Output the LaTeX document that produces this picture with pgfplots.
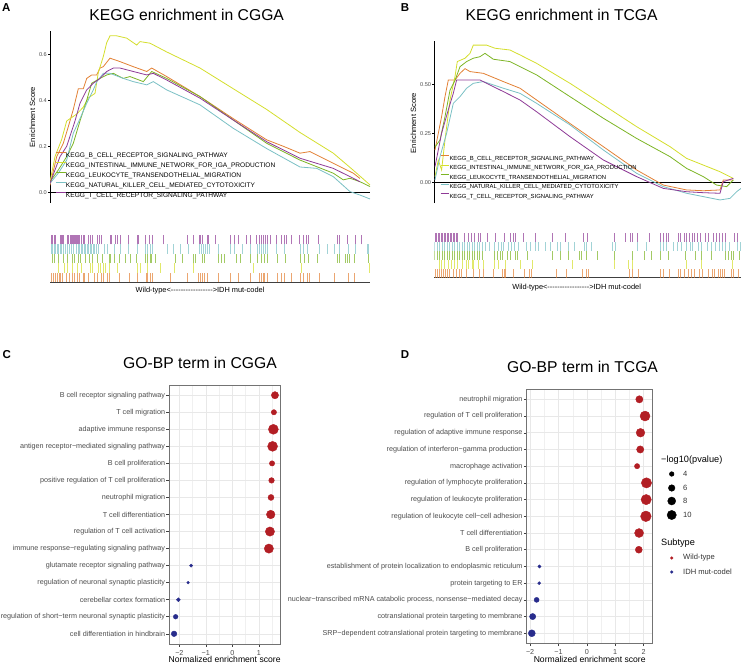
\documentclass[border=0pt]{standalone}
\usepackage{fontspec}
\setmainfont{Liberation Sans}[Ligatures=TeXOff]
\usepackage{pgfplots}
\pgfplotsset{compat=1.18}
\definecolor{cOr}{RGB}{226,128,52}
\definecolor{cYe}{RGB}{212,222,44}
\definecolor{cGr}{RGB}{124,180,36}
\definecolor{cCy}{RGB}{122,192,196}
\definecolor{cPu}{RGB}{142,58,150}
\definecolor{wtred}{RGB}{178,30,36}
\definecolor{idhblue}{RGB}{40,44,140}
\newcommand{\fs}[1]{\fontsize{#1bp}{#1bp}\selectfont}
\pgfplotsset{
 esaxis/.style={scale only axis, axis x line=none, axis y line*=left,
   axis line style={-,black,line width=0.6bp}, tick align=outside, major tick length=2bp,
   tick style={black,line width=0.5bp},
   yticklabel style={font=\fs{5.6}, text=black!70, inner sep=1bp},
   ylabel style={font=\fs{7.6}, anchor=center},
   legend cell align=left},
 rugaxis/.style={scale only axis, xmin=0, ymin=0, ymax=5, axis y line=none, axis x line*=bottom,
   axis line style={-, black!75, line width=0.9bp}, xtick=\empty,
   xlabel style={font=\fs{7.4}, anchor=center}},
 goaxis/.style={scale only axis, ymin=0.4, ymax=15.6, ytick={1,...,15}, tick pos=left,
   tick align=outside, major tick length=2.8bp, minor tick length=0pt,
   tick style={black!75, line width=0.5bp}, grid=both,
   major grid style={black!9, line width=0.55bp}, minor grid style={black!6, line width=0.35bp},
   axis line style={black!55, line width=0.6bp},
   ticklabel style={text=black!70, font=\fs{7.2}}, yticklabel style={inner sep=1.2bp},
   xlabel={Normalized enrichment score},
   xlabel style={font=\fs{8.6}, at={(axis description cs:0.5,0)}, anchor=center, yshift=-15.8bp}},
 gopts/.style={scatter, only marks, mark=*, scatter/use mapped color={draw=#1, fill=#1},
   visualization depends on={sqrt(10.7*\thisrow{p}-20.7)/2 \as \msz},
   scatter/@pre marker code/.append style={/tikz/mark size=\msz}},
}
\newcommand\rug[3]{\addplot[#1, line width=1bp, opacity=0.7, quiver={u=0,v=1}] table[row sep=\\, header=false, x index=0, y expr=#2] {#3};}
\begin{document}
\begin{tikzpicture}
\path[use as bounding box] (0,0) rectangle (741bp,-664bp);

% ---------- Panel A running score ----------
\begin{axis}[esaxis, at={(50bp,-31bp)}, anchor=north west, width=320bp, height=172bp,
  xmin=0, xmax=320, ymin=-0.0465, ymax=0.701,
  ytick={0,0.2,0.4,0.6}, yticklabels={0.0,0.2,0.4,0.6},
  ylabel={Enrichment Score}, ylabel style={at={(axis description cs:-0.055,0.5)}},
  legend style={at={(axis description cs:0.0156,0.308)}, anchor=north west, draw=none, fill=none,
    inner sep=0pt, font=\fs{6.6}, row sep=0bp, nodes={inner sep=0pt, text height=7.4bp, text depth=2.6bp}},
  legend image code/.code={\draw[#1, line width=0.8bp] (0bp,2.4bp) -- (10bp,2.4bp);}]
\addplot[black, line width=0.7bp, forget plot] coordinates {(0,0) (320,0)};
\addplot[cOr, line width=0.8bp] coordinates {(0,0.03) (6.7,0.155) (13.3,0.213) (18.3,0.285) (23.3,0.36) (28.3,0.45) (33.3,0.45) (36.7,0.495) (41.7,0.51) (46.7,0.51) (50,0.54) (53.3,0.546) (60,0.583) (70,0.568) (83.3,0.546) (96.7,0.525) (101.7,0.54) (116.7,0.503) (150,0.416) (183.3,0.32) (216.7,0.228) (233.3,0.2) (250,0.17) (260,0.177) (283.3,0.126) (303.3,0.083) (310,0.06)};
\addplot[cYe, line width=0.8bp] coordinates {(0,0.046) (5,0.155) (11.7,0.23) (16.7,0.31) (26.7,0.34) (33.3,0.37) (38.3,0.41) (45,0.43) (48.3,0.52) (53.3,0.59) (56.7,0.65) (60,0.68) (66.7,0.68) (76.7,0.67) (86.7,0.64) (90,0.655) (100,0.648) (116.7,0.61) (150,0.54) (183.3,0.45) (216.7,0.36) (250,0.26) (283.3,0.17) (303,0.097) (320,0.032)};
\addplot[cGr, line width=0.8bp] coordinates {(0,0.046) (8.3,0.097) (16.7,0.155) (23.3,0.213) (30,0.31) (36.7,0.4) (41.7,0.474) (50,0.495) (56.7,0.51) (63.3,0.517) (73.3,0.495) (80,0.503) (93.3,0.481) (101.7,0.525) (116.7,0.495) (150,0.416) (183.3,0.314) (216.7,0.213) (250,0.14) (283.3,0.083) (293.3,0.054) (300,0.061) (310,0.046) (320,0.025)};
\addplot[cCy, line width=0.8bp] coordinates {(0,0.039) (8.3,0.083) (16.7,0.14) (23.3,0.257) (30,0.32) (36.7,0.387) (43.3,0.445) (46.7,0.48) (53.3,0.517) (60,0.517) (73.3,0.495) (83.3,0.481) (96.7,0.467) (103.3,0.481) (116.7,0.445) (150,0.38) (183.3,0.278) (216.7,0.19) (250,0.11) (266.7,0.104) (283.3,0.068) (300,0.003) (310,-0.012) (320,-0.029)};
\addplot[cPu, line width=0.8bp] coordinates {(0,0.039) (10,0.155) (16.7,0.2) (25,0.31) (30,0.387) (36.7,0.445) (43.3,0.474) (50,0.495) (56.7,0.525) (63.3,0.54) (70,0.54) (83.3,0.525) (96.7,0.51) (103.3,0.517) (116.7,0.488) (150,0.409) (183.3,0.314) (216.7,0.22) (250,0.148) (283.3,0.104) (300,0.068) (310,0.046)};
\legend{KEGG\_B\_CELL\_RECEPTOR\_SIGNALING\_PATHWAY, KEGG\_INTESTINAL\_IMMUNE\_NETWORK\_FOR\_IGA\_PRODUCTION, KEGG\_LEUKOCYTE\_TRANSENDOTHELIAL\_MIGRATION, KEGG\_NATURAL\_KILLER\_CELL\_MEDIATED\_CYTOTOXICITY, KEGG\_T\_CELL\_RECEPTOR\_SIGNALING\_PATHWAY}
\end{axis}

% ---------- Panel B running score ----------
\begin{axis}[esaxis, at={(434.3bp,-41bp)}, anchor=north west, width=306.7bp, height=162bp,
  xmin=0, xmax=306.7, ymin=-0.1056, ymax=0.721,
  ytick={0,0.25,0.5}, yticklabels={0.00,0.25,0.50},
  ylabel={Enrichment Score}, ylabel style={at={(axis description cs:-0.0685,0.494)}},
  legend style={at={(axis description cs:0.0186,0.309)}, anchor=north west, draw=none, fill=none,
    inner sep=0pt, font=\fs{5.9}, row sep=0bp, nodes={inner sep=0pt, text height=7.0bp, text depth=2.5bp}},
  legend image code/.code={\draw[#1, line width=0.8bp] (0bp,2.2bp) -- (8.5bp,2.2bp);}]
\addplot[black, line width=0.7bp, forget plot] coordinates {(0,0) (306.7,0)};
\addplot[cOr, line width=0.8bp] coordinates {(0.7,0.165) (7.3,0.335) (10.7,0.437) (14,0.522) (20.7,0.522) (25.7,0.556) (30.7,0.58) (35.7,0.565) (49,0.556) (69,0.514) (85.7,0.48) (102.3,0.42) (135.7,0.30) (169,0.182) (202.3,0.063) (229,-0.014) (252.3,-0.039) (269,-0.043) (285.7,-0.039) (289,0.012) (299,0.012)};
\addplot[cYe, line width=0.8bp] coordinates {(0.7,0.029) (4,0.114) (7.3,0.063) (10.7,0.216) (15.7,0.42) (20.7,0.54) (23,0.616) (30.7,0.633) (35.7,0.658) (39,0.70) (52.3,0.70) (60.7,0.684) (75.7,0.675) (85.7,0.65) (102.3,0.607) (135.7,0.505) (169,0.395) (202.3,0.284) (235.7,0.182) (252.3,0.122) (269,0.088) (285.7,0.054) (299,0.02)};
\addplot[cGr, line width=0.8bp] coordinates {(0.7,0.18) (5.7,0.216) (10.7,0.335) (15.7,0.47) (20.7,0.52) (25.7,0.59) (32.3,0.616) (39,0.633) (45.7,0.641) (50.7,0.658) (59,0.628) (75.7,0.616) (85.7,0.59) (102.3,0.548) (135.7,0.437) (169,0.327) (202.3,0.224) (235.7,0.131) (252.3,0.071) (269,0.029) (282.3,-0.014) (292.3,-0.022) (299,0.012)};
\addplot[cCy, line width=0.8bp] coordinates {(0.7,0.012) (5.7,0.131) (12.3,0.25) (19,0.403) (25.7,0.437) (32.3,0.48) (39,0.505) (49,0.514) (69,0.48) (85.7,0.454) (102.3,0.403) (135.7,0.293) (169,0.165) (202.3,0.046) (229,-0.022) (252.3,-0.056) (285.7,-0.09) (295.7,-0.082) (302.3,-0.048) (306.7,-0.031)};
\addplot[cPu, line width=0.8bp] coordinates {(0.7,0.08) (7.3,0.25) (14,0.37) (19,0.454) (22.3,0.522) (32.3,0.522) (45.7,0.522) (52.3,0.505) (69,0.463) (85.7,0.42) (102.3,0.36) (135.7,0.233) (169,0.114) (202.3,0.029) (229,-0.031) (252.3,-0.048) (269,-0.053) (285.7,-0.056) (289,0.003) (299,0.02)};
\legend{KEGG\_B\_CELL\_RECEPTOR\_SIGNALING\_PATHWAY, KEGG\_INTESTINAL\_IMMUNE\_NETWORK\_FOR\_IGA\_PRODUCTION, KEGG\_LEUKOCYTE\_TRANSENDOTHELIAL\_MIGRATION, KEGG\_NATURAL\_KILLER\_CELL\_MEDIATED\_CYTOTOXICITY, KEGG\_T\_CELL\_RECEPTOR\_SIGNALING\_PATHWAY}
\end{axis}

% ---------- Rug A ----------
\begin{axis}[rugaxis, at={(50bp,-235bp)}, anchor=north west, width=320bp, height=47bp, xmax=320,
  xlabel={Wild-type<----------------->IDH mut-codel},
  xlabel style={at={(axis description cs:0.469,0)}, yshift=-8.7bp}]
\rug{cPu}{4}{1\\2.5\\4\\5.5\\10\\11\\12\\13\\17\\18.5\\20\\21\\22\\23\\24\\25\\26\\27\\28\\29\\31.5\\33\\34.5\\38\\40.5\\42\\47.5\\49.5\\51.5\\60\\61\\65\\67\\70.5\\78\\87\\88.5\\95.5\\99.5\\102\\113.3\\137.5\\143.3\\149\\150.5\\152.5\\157\\158.5\\165.5\\180\\184.5\\188\\196\\200\\206\\209\\211\\213\\215\\217.3\\220.7\\226.7\\231.3\\234\\236\\241.7\\249\\253\\256\\258\\268.7\\287\\289\\297.3\\305\\311\\}
\rug{cCy}{3}{1\\2.5\\4\\5.5\\7\\8.5\\10\\11.5\\13\\15\\17\\19\\21\\23\\26.5\\28\\29.5\\31\\32.5\\34\\35.5\\37\\38.5\\40\\41.5\\43\\44.5\\46\\48.5\\54\\57.5\\64.7\\70.7\\78\\87.5\\95\\97\\100.5\\102\\117.3\\123\\130\\138\\149\\151\\153\\155\\157.5\\159\\168\\180\\184.5\\192\\200\\207\\209\\211\\213\\215\\217\\226.7\\234\\250\\253\\257\\269\\277.5\\284.7\\289.5\\298\\305\\317\\318\\}
\rug{cGr}{2}{2\\4.7\\8.7\\13\\17.5\\22.7\\24\\28\\30.5\\35.5\\39\\42\\47\\52\\59\\60.5\\64.7\\69.7\\75.5\\80\\86.7\\95\\97.5\\100\\101.7\\105.5\\125.5\\132\\143.5\\145\\152\\154.5\\168\\171\\174.7\\186\\190\\200\\207\\211\\214\\217.3\\227\\235\\250\\254\\258.3\\267\\287\\289.5\\295\\297\\299\\304\\318\\}
\rug{cYe}{1}{8.3\\14.7\\17\\22.7\\27.7\\31.3\\40.3\\42.7\\48\\50.5\\53\\55\\59\\67\\87\\90.5\\97.5\\110.5\\124.7\\143.3\\203\\251.3\\319\\}
\rug{cOr}{0}{1\\3\\5\\7\\9\\10.5\\12.5\\16.5\\19\\22.7\\24.5\\27\\29.5\\33.7\\34.7\\38\\44\\47\\51\\53\\57.5\\59.7\\69\\79\\87.5\\96\\97.5\\100.5\\102.5\\120\\137.5\\148\\150\\152\\154\\157.5\\168\\180\\188.5\\200\\209\\211\\213\\214.7\\217.5\\227\\231\\234\\241.7\\250\\253\\257\\259\\269.7\\284.7\\298\\304.7\\}
\end{axis}

% ---------- Rug B ----------
\begin{axis}[rugaxis, at={(434.3bp,-233bp)}, anchor=north west, width=306.7bp, height=44.7bp, xmax=306.7,
  xlabel={Wild-type<----------------->IDH mut-codel},
  xlabel style={at={(axis description cs:0.464,0)}, yshift=-10.3bp}]
\rug{cPu}{4}{1\\2.5\\4\\5.5\\7\\8.5\\10\\11.5\\13\\14.5\\16\\17.5\\19\\20.5\\22\\23.5\\30\\34\\37\\40\\44\\46.5\\52.7\\61\\69.7\\76\\79\\81\\89.3\\100.7\\117.7\\131.5\\149\\153\\180\\191\\196\\198\\203.4\\215\\226\\229\\232\\234\\243.7\\246\\250\\252.5\\255\\258\\260\\263\\266\\271\\274\\279\\282\\285\\288\\291\\300\\303\\}
\rug{cCy}{3}{0.5\\3\\5.5\\8\\10.5\\13\\15.5\\18\\20.5\\23\\25.5\\28\\30.5\\33\\35.5\\38\\40.5\\43\\45.5\\48\\51\\55\\60\\64\\66.7\\69\\74\\77\\80\\84\\92\\96\\101\\104\\111\\116.5\\122.7\\126.5\\134.5\\140.5\\150\\152\\157\\178\\181\\203\\212\\226\\229\\232\\239\\243\\247\\252\\256\\258\\264\\267\\273\\277\\281\\285\\288\\291\\295\\303\\306\\}
\rug{cGr}{2}{0.5\\3\\5.5\\8\\10.5\\13\\15.5\\18\\20.5\\23\\25.5\\28\\30.5\\33\\35.5\\38\\40.5\\43\\45.5\\48\\60\\63\\66.3\\68\\73\\76\\81\\83\\93.5\\117.7\\126.5\\134.3\\145\\147\\151.7\\163\\180\\198\\210\\217\\226\\234\\250.7\\261\\267\\277\\291\\294\\297\\299\\305\\}
\rug{cYe}{1}{5\\7.5\\10\\13.7\\17\\20\\22.7\\28\\32\\34\\37.7\\39\\44.4\\49.4\\60.5\\64.4\\71\\86\\97.7\\137.7\\180\\194\\198\\252\\266.7\\298\\}
\rug{cOr}{0}{1\\3\\5\\7\\9\\11\\13\\15\\19.5\\22\\25\\27.5\\32\\39.4\\45\\49.4\\59\\67.7\\70.5\\71.5\\79.4\\90\\95\\97\\121.7\\132\\148\\152\\154\\195\\198.5\\204\\226\\229\\235.5\\244\\246\\250\\254\\257\\259.7\\265\\268\\274\\278\\280\\284\\286\\288\\290\\297\\299\\304\\}
\end{axis}

% ---------- Panel C ----------
\begin{axis}[goaxis, at={(169.3bp,-385bp)}, anchor=north west, width=110.7bp, height=259bp,
  xmin=-2.38, xmax=1.80, xtick={-2,-1,0,1}, xticklabels={−2,−1,0,1}, minor xtick={-1.5,-0.5,0.5,1.5},
  yticklabels={cell differentiation in hindbrain, regulation of short−term neuronal synaptic plasticity, cerebellar cortex formation, regulation of neuronal synaptic plasticity, glutamate receptor signaling pathway, immune response−regulating signaling pathway, regulation of T cell activation, T cell differentiation, neutrophil migration, positive regulation of T cell proliferation, B cell proliferation, antigen receptor−mediated signaling pathway, adaptive immune response, T cell migration, B cell receptor signaling pathway}]
\addplot[gopts=wtred] table {
x y p
1.61 15 6.9
1.57 14 4.6
1.55 13 11.3
1.52 12 11.3
1.50 11 4.6
1.48 10 4.9
1.46 9 5.3
1.45 8 8.9
1.42 7 10
1.38 6 10
};
\addplot[gopts=idhblue] table {
x y p
-1.56 5 2.9
-1.67 4 2.6
-2.04 3 3.4
-2.14 2 4.0
-2.20 1 4.9
};
\end{axis}

% ---------- Panel D ----------
\begin{axis}[goaxis, at={(526.7bp,-389.3bp)}, anchor=north west, width=126bp, height=254bp,
  xmin=-2.12, xmax=2.32, xtick={-2,-1,0,1,2}, xticklabels={−2,−1,0,1,2}, minor xtick={-1.5,-0.5,0.5,1.5},
  yticklabels={SRP−dependent cotranslational protein targeting to membrane, cotranslational protein targeting to membrane, {nuclear−transcribed mRNA catabolic process, nonsense−mediated decay}, protein targeting to ER, establishment of protein localization to endoplasmic reticulum, B cell proliferation, T cell differentiation, regulation of leukocyte cell−cell adhesion, regulation of leukocyte proliferation, regulation of lymphocyte proliferation, macrophage activation, regulation of interferon−gamma production, regulation of adaptive immune response, regulation of T cell proliferation, neutrophil migration}]
\addplot[gopts=wtred] table {
x y p
1.85 15 6.9
2.05 14 11.3
1.89 13 9.0
1.88 12 6.9
1.77 11 4.6
2.10 10 11.9
2.09 9 11.9
2.08 8 12.6
1.84 7 9.5
1.83 6 6.5
};
\addplot[gopts=idhblue] table {
x y p
-1.67 5 2.95
-1.68 4 2.8
-1.77 3 4.3
-1.91 2 5.6
-1.94 1 6.5
};
\end{axis}

% ---------- legend (size / subtype) ----------
\begin{axis}[at={(0bp,-664bp)}, anchor=south west, scale only axis, width=741bp, height=664bp,
  xmin=0, xmax=741, ymin=-664, ymax=0, hide axis, clip=false]
\addplot[gopts=black] table {
x y p
671.7 -474 4
671.7 -488 6
671.7 -501 8
671.7 -515 10
};
\addplot[only marks, mark=*, mark size=1.35, draw=wtred, fill=wtred] coordinates {(671.7,-558)};
\addplot[only marks, mark=*, mark size=1.35, draw=idhblue, fill=idhblue] coordinates {(671.7,-572)};
\end{axis}

% ---------- text ----------
\node[font=\fs{11.5}\bfseries] at (6.3bp,-7.3bp) {A};
\node[font=\fs{11.5}\bfseries] at (405bp,-7.3bp) {B};
\node[font=\fs{11.5}\bfseries] at (6.7bp,-355bp) {C};
\node[font=\fs{11.5}\bfseries] at (405bp,-355bp) {D};
\node[font=\fs{15.7}] at (186.7bp,-15bp) {KEGG enrichment in CGGA};
\node[font=\fs{15.7}] at (561.7bp,-15bp) {KEGG enrichment in TCGA};
\node[font=\fs{15.7}] at (200bp,-363.3bp) {GO-BP term in CGGA};
\node[font=\fs{15.7}] at (582.5bp,-366.7bp) {GO-BP term in TCGA};
\node[font=\fs{9.2}, anchor=west, inner sep=0pt] at (661bp,-460.5bp) {−log10(pvalue)};
\node[font=\fs{9.2}, anchor=west, inner sep=0pt] at (661bp,-543bp) {Subtype};
\foreach \v/\yy in {4/474,6/488,8/501,10/515}
  \node[font=\fs{7.6}, text=black!80, anchor=west, inner sep=0pt] at (683bp,-\yy bp) {\v};
\node[font=\fs{7.6}, text=black!80, anchor=west, inner sep=0pt] at (683bp,-558bp) {Wild-type};
\node[font=\fs{7.6}, text=black!80, anchor=west, inner sep=0pt] at (683bp,-572bp) {IDH mut-codel};
\end{tikzpicture}
\end{document}
